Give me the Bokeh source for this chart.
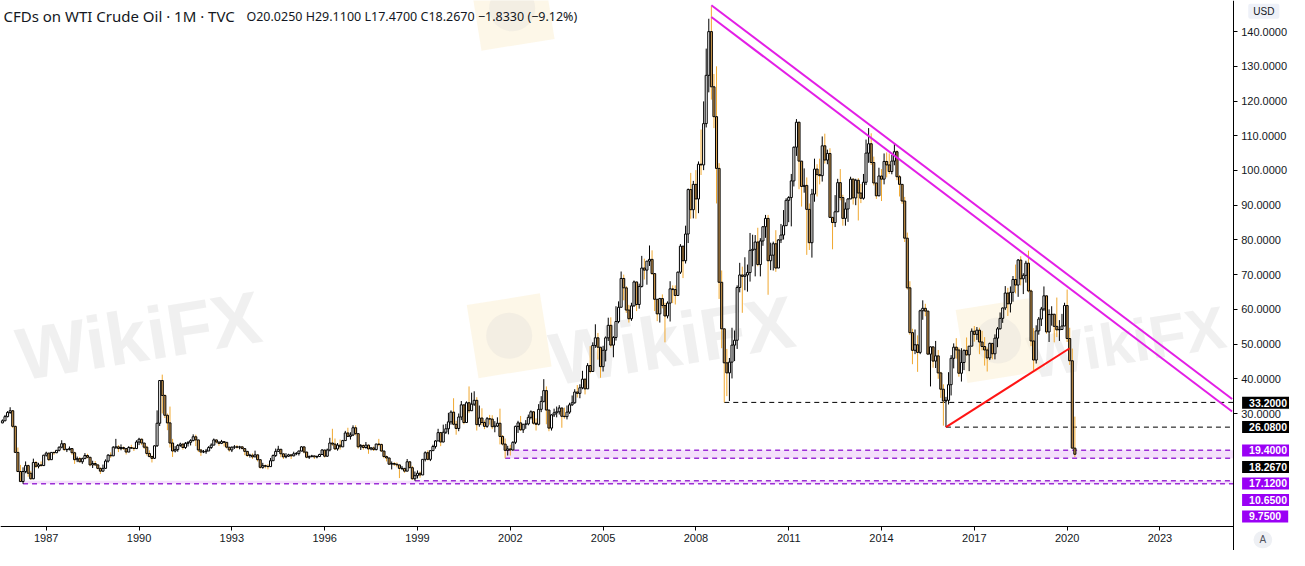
from bokeh.plotting import figure
from bokeh.models import FixedTicker, PrintfTickFormatter, Label, ColumnDataSource, Range1d
from bokeh.embed import file_html
from bokeh.resources import INLINE
from bokeh.core.properties import value

# ---------------- data (monthly WTI CFD, Aug 1985 .. Apr 2020) ----------------
first_year, first_month = 1985, 8
first_open = 27.3

closes = [
    27.9, 29.1, 30.3, 30.8, 26.3,
    18.8, 13.3, 10.4, 13.3, 15.0, 12.8, 11.2, 15.9, 14.8, 15.2, 15.0, 18.0,
    18.6, 16.7, 18.8, 18.7, 19.4, 20.3, 21.3, 19.6, 19.6, 19.9, 18.7, 16.7,
    17.0, 16.1, 17.0, 17.9, 17.4, 15.2, 15.6, 15.2, 14.2, 13.4, 14.2, 16.3,
    18.0, 17.8, 20.3, 20.4, 19.9, 20.2, 19.9, 18.9, 20.2, 20.0, 19.9, 21.8,
    22.6, 21.5, 20.3, 18.5, 17.6, 17.1, 20.7, 27.2, 39.5, 35.2, 29.5, 27.3,
    21.5, 19.2, 19.6, 20.8, 21.2, 20.2, 21.4, 21.7, 22.2, 23.3, 22.4, 19.5,
    18.9, 19.0, 19.2, 20.2, 20.9, 22.4, 21.8, 21.4, 21.9, 21.7, 20.3, 19.5,
    20.3, 20.4, 20.3, 20.4, 19.9, 19.1, 17.9, 18.0, 17.5, 18.1, 16.7, 14.5,
    15.0, 14.8, 14.7, 16.4, 17.9, 19.1, 19.7, 18.4, 17.5, 17.7, 18.1, 17.8,
    18.4, 18.5, 19.2, 20.4, 18.9, 17.4, 17.6, 17.8, 17.5, 17.6, 18.2, 19.5,
    17.7, 19.5, 21.5, 21.2, 19.8, 20.9, 20.4, 22.2, 24.4, 23.4, 23.8, 25.9,
    24.2, 20.4, 20.8, 20.2, 20.9, 19.8, 20.1, 19.6, 21.2, 21.1, 19.2, 17.6,
    17.2, 15.4, 15.6, 15.4, 15.2, 14.2, 14.2, 13.4, 16.1, 14.4, 11.2, 12.1,
    12.8, 12.3, 16.8, 18.7, 16.8, 19.3, 20.5, 22.1, 24.5, 21.8, 24.6, 25.6,
    27.6, 30.4, 26.9, 25.7, 29.0, 32.5, 27.4, 33.1, 30.8, 32.7, 33.8, 26.8,
    28.7, 27.4, 26.3, 28.5, 28.4, 26.2, 26.4, 27.2, 23.4, 21.2, 19.4, 19.8,
    19.5, 21.7, 26.3, 27.3, 25.3, 26.9, 27.0, 28.9, 30.5, 27.2, 26.9, 31.2,
    33.5, 36.6, 31.0, 25.8, 29.6, 30.2, 30.5, 31.6, 29.2, 29.1, 30.4, 32.5,
    33.1, 36.2, 35.8, 37.4, 39.9, 37.1, 43.8, 42.1, 49.6, 51.8, 49.1, 43.5,
    48.2, 51.8, 55.4, 49.7, 51.9, 56.5, 60.6, 68.9, 66.2, 59.8, 57.3, 61.0,
    67.9, 61.4, 66.6, 71.9, 71.3, 73.9, 74.4, 70.3, 62.9, 58.7, 63.1, 61.1,
    58.1, 61.8, 65.9, 65.7, 64.0, 70.7, 78.2, 74.0, 81.7, 94.5, 88.7, 96.0,
    91.8, 101.8, 101.6, 113.5, 127.4, 140.0, 124.1, 115.5, 100.6, 67.8, 54.4, 44.6,
    41.7, 44.8, 49.7, 51.1, 66.3, 69.9, 69.5, 69.9, 70.6, 77.0, 77.3, 79.4,
    72.9, 79.7, 83.8, 86.2, 74.0, 75.6, 78.9, 71.9, 80.0, 81.4, 84.1, 91.4,
    92.2, 97.0, 106.7, 113.9, 102.7, 95.4, 95.7, 88.8, 79.2, 93.2, 100.4, 98.8,
    98.5, 107.1, 103.0, 104.9, 86.5, 85.0, 88.1, 96.5, 92.2, 86.2, 88.9, 91.8,
    97.5, 92.1, 97.2, 93.5, 92.0, 96.6, 105.0, 107.7, 102.3, 96.4, 92.7, 98.4,
    97.5, 102.6, 101.6, 99.7, 102.7, 105.4, 98.2, 96.0, 91.2, 80.5, 66.2, 53.3,
    48.2, 49.8, 47.6, 59.6, 60.3, 59.5, 47.1, 49.2, 45.1, 46.6, 41.7, 37.0,
    33.6, 33.8, 38.3, 45.9, 49.1, 48.3, 41.6, 44.7, 48.2, 46.9, 49.4, 53.7,
    52.8, 54.0, 50.6, 49.3, 48.3, 46.0, 50.2, 47.2, 51.7, 54.4, 57.4, 60.4,
    64.7, 61.6, 64.9, 68.6, 67.0, 74.2, 68.8, 69.8, 73.3, 65.3, 50.9, 45.4,
    53.8, 57.2, 60.1, 63.9, 53.5, 58.5, 58.6, 55.1, 54.1, 54.2, 55.2, 61.1,
    51.6, 45.2, 20.025, 18.267,
]

highs = [
    28.3, 29.6, 30.7, 31.8, 31.0,
    26.5, 20.2, 15.2, 14.5, 16.2, 15.3, 13.5, 17.0, 16.3, 15.8, 16.2, 18.1,
    19.0, 18.7, 18.9, 19.0, 19.5, 20.5, 22.3, 21.5, 19.9, 20.5, 19.9, 19.0,
    17.6, 17.5, 17.3, 18.6, 18.4, 17.4, 16.4, 16.3, 15.4, 14.5, 15.3, 16.8,
    18.3, 18.8, 20.6, 22.7, 20.9, 21.1, 20.5, 19.9, 20.6, 21.0, 20.4, 22.3,
    23.0, 22.8, 21.5, 20.7, 19.4, 17.9, 20.8, 30.9, 39.6, 41.2, 35.5, 30.0,
    32.0, 22.7, 20.6, 21.2, 21.6, 21.4, 21.8, 22.0, 22.6, 24.0, 23.9, 20.6,
    19.7, 19.5, 19.8, 20.6, 21.4, 22.8, 22.5, 21.7, 22.4, 21.9, 21.0, 20.0,
    20.5, 20.9, 20.9, 20.7, 20.5, 19.9, 18.2, 18.4, 18.5, 19.3, 18.2, 16.4,
    15.8, 15.3, 15.4, 17.2, 18.2, 19.9, 20.7, 19.5, 18.2, 18.6, 18.4, 18.1,
    19.0, 18.9, 19.3, 20.6, 20.4, 19.0, 17.9, 18.1, 17.8, 17.9, 18.4, 19.7,
    19.5, 19.9, 23.0, 25.6, 22.8, 21.5, 22.5, 22.4, 25.0, 25.9, 24.6, 26.6,
    26.6, 24.3, 21.2, 21.1, 21.8, 21.1, 20.3, 20.5, 21.3, 22.7, 21.3, 19.0,
    17.9, 17.1, 16.2, 16.0, 15.9, 15.2, 14.9, 13.9, 16.9, 16.0, 14.9, 13.3,
    13.6, 13.3, 16.8, 19.1, 19.4, 19.3, 21.0, 22.3, 25.6, 24.7, 26.8, 27.0,
    30.2, 30.9, 34.4, 27.9, 30.0, 33.6, 31.9, 33.5, 37.8, 36.0, 36.4, 34.7,
    32.3, 31.5, 28.0, 29.0, 29.6, 29.5, 27.8, 28.9, 31.4, 23.8, 22.8, 20.7,
    21.0, 22.0, 26.5, 27.9, 29.3, 27.0, 28.1, 29.7, 30.9, 30.7, 28.6, 32.7,
    35.0, 39.9, 37.8, 30.9, 29.8, 31.4, 32.0, 32.4, 29.9, 31.7, 32.3, 33.1,
    35.2, 37.0, 38.2, 38.4, 42.3, 40.0, 44.5, 49.4, 50.5, 55.7, 53.2, 46.4,
    49.5, 52.2, 57.6, 57.7, 52.3, 60.9, 62.3, 70.9, 70.0, 66.7, 61.3, 61.9,
    68.3, 67.9, 67.4, 75.4, 74.6, 73.9, 78.4, 77.0, 70.3, 62.6, 63.3, 64.3,
    61.9, 62.3, 68.1, 66.9, 66.9, 70.9, 78.8, 78.2, 84.1, 94.8, 99.3, 97.0,
    100.1, 102.6, 111.8, 119.9, 135.1, 143.7, 147.3, 127.8, 130.0, 102.1, 71.2, 50.6,
    48.6, 46.0, 54.7, 53.9, 66.9, 73.4, 72.3, 75.0, 72.9, 82.0, 81.5, 81.4,
    83.5, 80.5, 83.9, 87.2, 87.2, 79.2, 79.5, 82.8, 80.2, 84.6, 88.6, 92.0,
    92.6, 99.0, 106.9, 114.8, 114.0, 102.4, 100.6, 98.0, 90.5, 94.7, 103.4, 101.8,
    103.4, 109.8, 110.6, 106.0, 106.4, 86.6, 92.9, 97.6, 100.4, 93.0, 90.8, 92.0,
    98.2, 97.8, 97.6, 97.8, 96.1, 99.0, 108.9, 112.2, 110.7, 104.0, 95.8, 100.8,
    100.4, 104.9, 105.2, 104.9, 104.5, 107.7, 105.8, 98.7, 95.9, 92.4, 82.1, 68.1,
    54.4, 54.2, 52.5, 59.9, 62.6, 61.6, 59.6, 49.3, 48.4, 50.9, 48.3, 42.0,
    38.4, 34.8, 41.9, 46.8, 50.2, 51.7, 49.0, 48.8, 48.4, 51.9, 49.4, 54.5,
    55.2, 54.9, 54.7, 53.8, 52.0, 49.0, 50.4, 50.2, 52.8, 54.9, 59.1, 60.5,
    66.7, 66.2, 66.6, 69.6, 72.9, 74.5, 75.3, 70.4, 74.0, 76.9, 65.7, 54.6,
    55.4, 57.8, 60.7, 66.6, 63.8, 60.0, 60.9, 57.5, 63.4, 56.9, 58.7, 61.9,
    65.7, 54.7, 48.7, 29.11,
]

lows = [
    27.2, 27.8, 28.9, 29.9, 25.8,
    18.6, 13.1, 10.3, 9.75, 12.8, 11.8, 10.9, 11.1, 14.3, 14.2, 14.7, 14.9,
    17.6, 16.3, 16.7, 18.1, 18.6, 19.1, 20.0, 19.3, 18.9, 19.4, 18.1, 15.5,
    16.0, 15.9, 15.5, 16.9, 17.1, 14.8, 14.3, 14.9, 13.9, 12.6, 13.2, 14.2,
    15.9, 17.2, 17.8, 19.8, 18.9, 19.4, 19.5, 18.2, 18.9, 19.8, 19.2, 19.8,
    20.9, 20.9, 19.8, 17.9, 17.4, 15.9, 16.9, 20.4, 26.4, 30.0, 28.7, 25.2,
    20.2, 17.5, 18.8, 19.0, 20.4, 19.6, 19.8, 20.5, 20.8, 22.0, 20.6, 18.9,
    17.8, 18.6, 18.4, 19.3, 19.8, 21.0, 21.4, 20.7, 21.2, 20.5, 19.9, 19.0,
    18.9, 19.8, 19.9, 19.7, 19.7, 18.0, 17.5, 17.3, 16.9, 17.5, 16.2, 14.1,
    14.1, 14.2, 13.9, 14.8, 16.6, 17.5, 19.0, 17.4, 16.9, 17.1, 17.5, 16.9,
    17.7, 18.0, 17.9, 19.1, 18.5, 17.1, 16.9, 17.4, 16.9, 17.1, 17.6, 18.1,
    17.3, 17.5, 19.1, 20.7, 19.5, 19.3, 19.6, 20.5, 22.1, 23.3, 22.5, 23.5,
    23.7, 19.9, 19.5, 19.6, 19.9, 18.4, 19.4, 19.2, 19.4, 20.6, 18.9, 17.1,
    16.2, 15.4, 13.9, 14.9, 14.5, 11.4, 13.7, 12.9, 13.4, 14.2, 10.9, 10.65,
    11.3, 11.5, 12.3, 16.2, 16.5, 16.3, 19.3, 19.9, 22.1, 20.6, 21.7, 24.1,
    24.0, 26.8, 26.6, 23.9, 24.9, 28.1, 26.9, 27.7, 30.1, 31.5, 32.2, 25.1,
    26.2, 26.6, 25.5, 25.9, 26.8, 25.5, 24.6, 26.1, 21.1, 20.8, 17.12, 17.9,
    17.9, 19.3, 21.2, 24.4, 25.0, 24.4, 25.6, 26.6, 28.3, 26.8, 25.1, 26.6,
    30.4, 33.2, 26.9, 24.9, 25.1, 29.0, 28.9, 29.7, 25.9, 28.5, 28.3, 29.9,
    32.2, 32.8, 34.6, 34.4, 37.0, 35.5, 37.7, 41.6, 42.4, 48.9, 45.5, 40.3,
    42.1, 45.0, 50.9, 49.0, 46.2, 51.0, 56.0, 60.6, 62.6, 59.0, 56.2, 56.7,
    60.8, 59.5, 60.2, 66.3, 68.6, 67.1, 72.5, 69.9, 59.5, 56.6, 56.2, 60.3,
    50.5, 57.4, 56.5, 61.8, 61.4, 63.9, 70.2, 69.0, 73.2, 79.1, 86.1, 86.2,
    86.1, 87.7, 98.7, 100.1, 112.4, 122.5, 120.4, 112.2, 90.5, 63.0, 48.8, 33.2,
    35.0, 33.6, 40.1, 45.1, 48.6, 64.9, 59.0, 65.5, 65.1, 68.0, 72.4, 69.5,
    72.4, 69.5, 78.3, 80.6, 64.2, 71.3, 71.2, 70.8, 72.6, 79.1, 80.1, 85.9,
    85.1, 83.9, 95.4, 104.2, 94.6, 89.6, 93.6, 75.7, 77.1, 74.9, 91.0, 92.5,
    96.0, 96.8, 102.0, 101.8, 86.3, 77.3, 83.7, 88.8, 91.4, 84.1, 84.1, 85.2,
    91.8, 90.2, 90.0, 85.6, 90.6, 91.6, 95.8, 102.2, 101.6, 95.7, 91.8, 92.6,
    91.2, 96.0, 98.0, 99.0, 98.9, 101.5, 97.2, 92.5, 90.4, 79.4, 65.7, 52.7,
    44.2, 47.1, 42.0, 47.1, 57.0, 58.0, 47.0, 37.8, 43.2, 43.1, 40.0, 34.5,
    26.5, 26.08, 32.6, 35.2, 43.0, 45.8, 40.6, 39.2, 42.5, 46.6, 42.2, 49.9,
    50.7, 51.2, 47.1, 48.2, 43.8, 42.1, 45.4, 45.6, 45.6, 49.1, 54.2, 56.1,
    59.8, 58.1, 59.1, 62.2, 64.6, 63.6, 66.9, 64.4, 67.7, 64.9, 49.4, 42.4,
    44.4, 52.7, 55.2, 59.5, 53.0, 50.6, 55.3, 50.5, 52.0, 50.9, 54.8, 55.4,
    50.6, 44.0, 19.9, 17.47,
]

year_ticks = [1987, 1990, 1993, 1996, 1999, 2002, 2005, 2008, 2011, 2014, 2017, 2020, 2023]
price_ticks = [30, 40, 50, 60, 70, 80, 90, 100, 110, 120, 130, 140]

# horizontal levels: (price, (year, month) where the line starts)
level_lines = [(33.2, (2008, 12)), (26.08, (2016, 2))]
upper_zone = (19.4, 17.12, (2001, 11))
lower_zone_top = (10.65, (1998, 12))
lower_zone_bottom = (9.75, (1986, 4))
last_close = 18.267

# drawn trend lines: ((year, month), price)
red_line = [((2016, 2), 26.08), ((2020, 2), 48.8)]
channel_upper = [((2008, 7), 147.6), ((2025, 5), 34.2)]
channel_lower = [((2008, 7), 144.2), ((2025, 5), 30.6)]

title_text = "CFDs on WTI Crude Oil \u00b7 1M \u00b7 TVC"
ohlc_text = "O20.0250  H29.1100  L17.4700  C18.2670  \u22121.8330 (\u22129.12%)"


# ---------------- helpers ----------------
def midx(ym):
    return (ym[0] - 1985) * 12 + (ym[1] - 1)


def ref_x(px):  # reference-picture pixel -> month index (layout only)
    return 423 - (1087.7 - px) / 2.61


def ref_y(py):  # reference-picture pixel -> price (layout only)
    return 140 - (py - 32) / 3.573


n = min(len(closes), len(highs), len(lows))
x0 = midx((first_year, first_month))
xs = [x0 + i for i in range(n)]
opens = [first_open] + closes[:n - 1]
up = dict(x=[], o=[], c=[], h=[], l=[], top=[], bot=[])
dn = dict(x=[], o=[], c=[], h=[], l=[], top=[], bot=[])
for i in range(n):
    o, c = opens[i], closes[i]
    h = max(highs[i], o, c)
    l = min(lows[i], o, c)
    d = up if c >= o else dn
    d["x"].append(xs[i]); d["o"].append(o); d["c"].append(c)
    d["h"].append(h); d["l"].append(l)
    d["top"].append(max(o, c)); d["bot"].append(min(o, c))

AXIS_X = ref_x(1248)    # where the price scale line sits
AXIS_Y = ref_y(541)     # where the time scale line sits

FONT = "Liberation Sans"
TXT = "#131722"
PURPLE = "#9a00f5"

p = figure(width=1289, height=550, output_backend="svg", toolbar_location=None,
           x_range=Range1d(ref_x(0), ref_x(1305)), y_range=Range1d(ref_y(566), ref_y(0)),
           y_axis_location="right", min_border_left=0, min_border_top=0,
           min_border_right=0, min_border_bottom=0)
p.outline_line_color = None
p.grid.visible = False
p.background_fill_color = "white"
p.border_fill_color = "white"

# ---------------- watermarks ----------------
wm = p.text(x=[ref_x(140), ref_x(680), ref_x(1140)], y=[ref_y(345), ref_y(350), ref_y(352)],
            text=["WikiFX"] * 3, angle=0.16, text_align="center", text_baseline="middle",
            text_font=value("Liberation Sans"), text_font_style="bold",
            text_font_size=["74px", "74px", "60px"],
            text_color="#e6e6e6", text_alpha=0.6)
wm.level = "underlay"
logo_x = [ref_x(515), ref_x(1010), ref_x(518)]
logo_y = [ref_y(345), ref_y(350), ref_y(8)]
logo = p.scatter(x=logo_x, y=logo_y, marker="square", size=74, angle=0.16,
                 fill_color="#fcf1d8", fill_alpha=0.6, line_color=None)
logo.level = "underlay"
logo2 = p.scatter(x=logo_x, y=logo_y, marker="circle", size=46,
                  fill_color="#e9e5de", fill_alpha=0.5, line_color=None)
logo2.level = "underlay"

# ---------------- zones & levels ----------------
uz_top, uz_bot, uz_start = upper_zone
p.quad(left=[midx(uz_start)], right=[AXIS_X], top=[uz_top], bottom=[uz_bot],
       fill_color="#f3dcfb", fill_alpha=0.9, line_color=None)
p.quad(left=[midx(lower_zone_bottom[1])], right=[AXIS_X], top=[lower_zone_top[0]],
       bottom=[lower_zone_bottom[0]], fill_color="#f3dcfb", fill_alpha=0.9, line_color=None)
zone_lines = [(uz_top, uz_start), (uz_bot, uz_start), lower_zone_top, lower_zone_bottom]
p.segment(x0=[midx(s) for _, s in zone_lines], x1=[AXIS_X] * 4,
          y0=[v for v, _ in zone_lines], y1=[v for v, _ in zone_lines],
          line_color="#9c2fd6", line_width=1.4, line_dash="5 4")
p.segment(x0=[midx(s) for _, s in level_lines], x1=[AXIS_X] * len(level_lines),
          y0=[v for v, _ in level_lines], y1=[v for v, _ in level_lines],
          line_color="black", line_width=1, line_dash="5 4")

# ---------------- candles ----------------
su, sd = ColumnDataSource(up), ColumnDataSource(dn)
p.segment(x0="x", x1="x", y0="l", y1="h", source=su, line_color="black", line_width=1)
p.segment(x0="x", x1="x", y0="l", y1="h", source=sd, line_color="#f0a830", line_width=1)
p.vbar(x="x", width=0.8, top="top", bottom="bot", source=su, fill_color="white",
       line_color="black", line_width=1)
p.vbar(x="x", width=0.8, top="top", bottom="bot", source=sd, fill_color="#d9a050",
       line_color="black", line_width=1)

# ---------------- trend lines ----------------
p.line(x=[midx(a) for a, _ in red_line], y=[v for _, v in red_line], line_color="#ff1414", line_width=2)
for ch in (channel_upper, channel_lower):
    p.line(x=[midx(a) for a, _ in ch], y=[v for _, v in ch], line_color="#e31ee6", line_width=2)

# ---------------- axes (drawn inside the frame at fixed locations) ----------------
p.xaxis.ticker = FixedTicker(ticks=[midx((y, 1)) for y in year_ticks])
p.xaxis.major_label_overrides = {midx((y, 1)): str(y) for y in year_ticks}
p.xaxis.fixed_location = AXIS_Y
p.xaxis.bounds = (ref_x(0), AXIS_X)
p.yaxis.ticker = FixedTicker(ticks=price_ticks)
p.yaxis.formatter = PrintfTickFormatter(format="%.4f")
p.yaxis.fixed_location = AXIS_X
for ax in (p.xaxis[0], p.yaxis[0]):
    ax.axis_line_color = "black"
    ax.axis_line_width = 1
    ax.major_tick_line_color = "black"
    ax.major_tick_out = 4
    ax.major_tick_in = 0
    ax.minor_tick_line_color = None
    ax.major_label_text_font = FONT
    ax.major_label_text_font_size = "11px"
    ax.major_label_text_color = TXT
    ax.major_label_standoff = 4

# ---------------- price labels on the scale ----------------
box_labels = [
    (level_lines[0][0], 414, "black"),
    (level_lines[1][0], 439, "black"),
    (uz_top, 463, PURPLE),
    (last_close, 480, "black"),
    (uz_bot, 497, PURPLE),
    (lower_zone_top[0], 514, PURPLE),
    (lower_zone_bottom[0], 531, PURPLE),
]
for val, py, col in box_labels:
    p.add_layout(Label(x=ref_x(1257), y=ref_y(py), text="%.4f" % val,
                       text_align="left", text_baseline="middle",
                       text_font=FONT, text_font_size="10.5px", text_font_style="bold",
                       text_color="white", background_fill_color=col,
                       padding=(7, 2)))

p.add_layout(Label(x=ref_x(1279), y=ref_y(11), text="USD", text_align="center",
                   text_baseline="middle", text_font=FONT, text_font_size="10px",
                   text_color=TXT, background_fill_color="#eef1f8",
                   padding=(5, 2), border_radius=2))
p.add_layout(Label(x=ref_x(1278), y=ref_y(555), text="A", text_align="center",
                   text_baseline="middle", text_font=FONT, text_font_size="10px",
                   text_color="#50535e", background_fill_color="#eef0f4",
                   padding=(6, 3), border_radius=9))

# ---------------- title ----------------
p.add_layout(Label(x=ref_x(3), y=ref_y(16), text=title_text, text_align="left",
                   text_baseline="middle", text_font="Noto Sans", text_font_size="15px",
                   text_color=TXT))
p.add_layout(Label(x=ref_x(249), y=ref_y(16), text=ohlc_text, text_align="left",
                   text_baseline="middle", text_font="Noto Sans", text_font_size="12.5px",
                   text_color=TXT))

open("out.html", "w").write(file_html(p, INLINE))
